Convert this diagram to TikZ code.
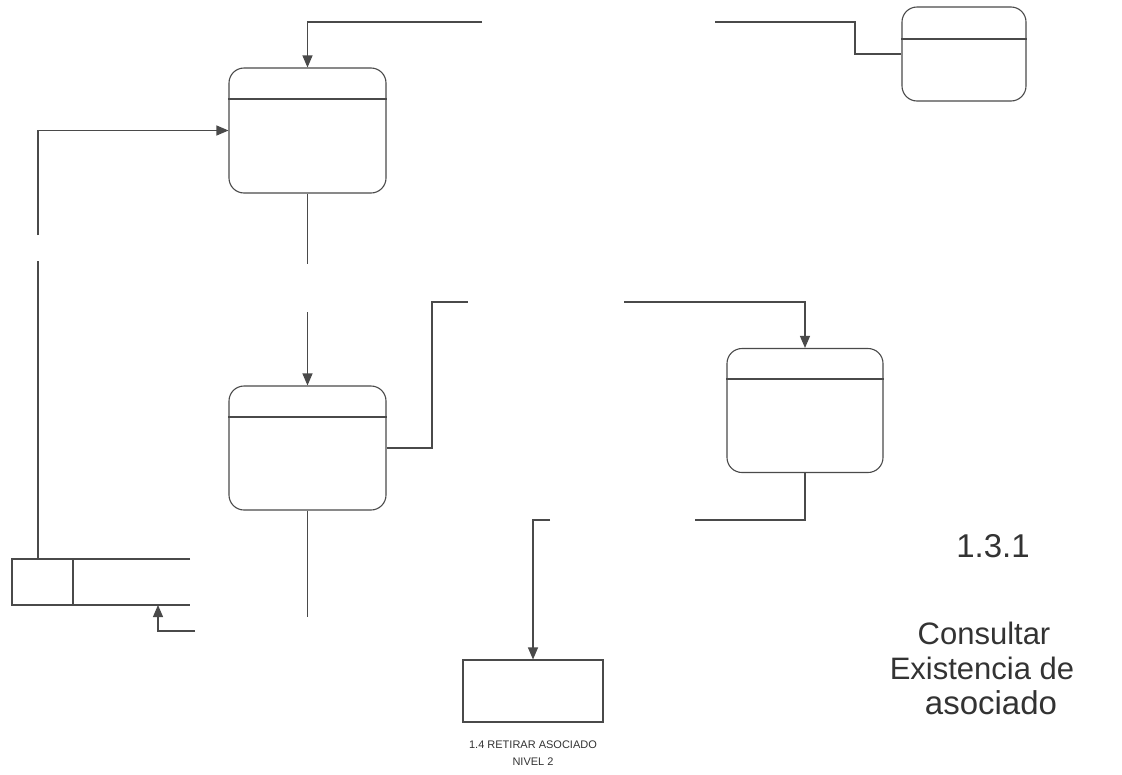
\documentclass[tikz,border=0pt]{standalone}
\usepackage{fontspec}
\setmainfont{Liberation Sans}
\usetikzlibrary{arrows.meta}
\definecolor{ln}{HTML}{4A4A4A}
\definecolor{tx}{HTML}{333333}
\tikzset{
  proc/.style={draw=ln, line width=1.1pt, rounded corners=15pt, inner sep=0pt},
  rectbox/.style={draw=ln, line width=1.1pt, inner sep=0pt},
  conn/.style={draw=ln, line width=1.1pt},
  arr/.style={conn, -{Triangle[length=12pt,width=10pt]}},
  bigtxt/.style={text=tx, anchor=base, font=\fontsize{31}{35}\selectfont},
  smalltxt/.style={text=tx, anchor=base, font=\fontsize{11}{13}\selectfont},
}
\begin{document}
\begin{tikzpicture}[x=1pt,y=-1pt]
\useasboundingbox (0,0) rectangle (1122,774);
% process boxes
\node[proc, minimum width=157pt, minimum height=125pt] (A) at (307.5,130.5) {};
\draw[ln, line width=1.1pt] (A.west |- 0,99) -- (A.east |- 0,99);
\node[proc, minimum width=124pt, minimum height=94pt] (B) at (964,54) {};
\draw[ln, line width=1.1pt] (B.west |- 0,39) -- (B.east |- 0,39);
\node[proc, minimum width=157pt, minimum height=124pt] (C) at (307.5,448) {};
\draw[ln, line width=1.1pt] (C.west |- 0,417) -- (C.east |- 0,417);
\node[proc, minimum width=156pt, minimum height=124pt] (D) at (805,410.5) {};
\draw[ln, line width=1.1pt] (D.west |- 0,379) -- (D.east |- 0,379);
% external entity
\node[rectbox, minimum width=140pt, minimum height=62pt] (E) at (533,691) {};
% data store
\coordinate (F1) at (190,559);
\coordinate (F2) at (12,559);
\coordinate (F3) at (12,605);
\coordinate (F4) at (190,605);
\draw[conn] (F1) -- (F2) -- (F3) -- (F4);
\draw[conn] (73,559) -- (73,605);
% connectors
\coordinate (t1) at (482,22);
\draw[arr] (t1) -| (A.north);
\coordinate (t2) at (715,22);
\coordinate (t2b) at (855,22);
\draw[conn] (t2) -- (t2b) |- (B.west);
\coordinate (l1) at (38,235);
\draw[arr] (l1) |- (A.west);
\coordinate (l2) at (38,261);
\coordinate (Ftop) at (38,559);
\draw[conn] (l2) -- (Ftop);
\coordinate (a1) at (307.5,264);
\draw[conn] (A.south) -- (a1);
\coordinate (a2) at (307.5,312);
\draw[arr] (a2) -- (C.north);
\coordinate (c1) at (432,302);
\coordinate (c2) at (468,302);
\draw[conn] (C.east) -| (c1) -- (c2);
\coordinate (c3) at (624,302);
\draw[arr] (c3) -| (D.north);
\coordinate (d1) at (695,520);
\draw[conn] (D.south) |- (d1);
\coordinate (d2) at (550,520);
\draw[arr] (d2) -| (E.north);
\coordinate (c4) at (307.5,617);
\draw[conn] (C.south) -- (c4);
\coordinate (s1) at (195,631);
\coordinate (Fbot) at (158,605);
\draw[arr] (s1) -| (Fbot);
% texts
\node[bigtxt, font=\fontsize{33}{35}\selectfont] (n1) at (993,557) {1.3.1};
\node[bigtxt] (n2) at (984,644) {Consultar};
\node[bigtxt] (n3) at (982,679) {Existencia de};
\node[bigtxt, font=\fontsize{33}{35}\selectfont] (n4) at (991,714) {asociado};
\node[smalltxt] (m1) at (533,748) {1.4 RETIRAR ASOCIADO};
\node[smalltxt] (m2) at (533,765) {NIVEL 2};
\end{tikzpicture}
\end{document}
